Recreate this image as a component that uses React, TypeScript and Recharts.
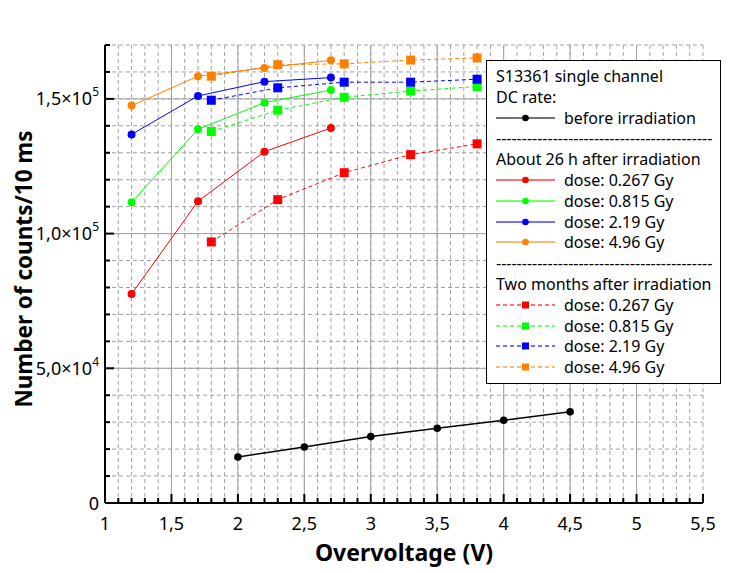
import React from 'react';
import { LineChart, Line, XAxis, YAxis, CartesianGrid, ReferenceLine } from 'recharts';

// overvoltage values (V)
const xBefore = [2, 2.5, 3, 3.5, 4, 4.5];
const x26h = [1.2, 1.7, 2.2, 2.7];
const x2mo = [1.8, 2.3, 2.8, 3.3, 3.8];

// DC counts per 10 ms
const yBefore = [17100, 20800, 24650, 27730, 30700, 33830];

const y26h0267 = [77600, 112000, 130400, 139200];
const y26h0815 = [111600, 138700, 148600, 153300];
const y26h219 = [136800, 151100, 156400, 157900];
const y26h496 = [147500, 158400, 161500, 164300];

const y2mo0267 = [96900, 112600, 122600, 129300, 133300];
const y2mo0815 = [137900, 145800, 150600, 152900, 154600];
const y2mo219 = [149500, 154100, 156200, 156200, 157300];
const y2mo496 = [158400, 162700, 163000, 164400, 165200];

const doseLabels = ['dose: 0.267 Gy', 'dose: 0.815 Gy', 'dose: 2.19 Gy', 'dose: 4.96 Gy'];
const doseColors = ['#ff0000', '#00ff00', '#0000ff', '#ff8000'];

const xMajorTicks = [1, 1.5, 2, 2.5, 3, 3.5, 4, 4.5, 5, 5.5];
const xTickLabels = ['1', '1,5', '2', '2,5', '3', '3,5', '4', '4,5', '5', '5,5'];
const yMajorTicks = [0, 50000, 100000, 150000];
const yTickMantissa = ['0', '5,0', '1,0', '1,5'];
const yTickExp = ['', '4', '5', '5'];

const X_DOMAIN: [number, number] = [1, 5.5];
const Y_DOMAIN: [number, number] = [0, 170000];

const xMinorTicks: number[] = [];
for (let i = 10; i <= 55; i++) xMinorTicks.push(i / 10);
const yMinorTicks: number[] = [];
for (let i = 0; i <= 17; i++) yMinorTicks.push(i * 10000);

const zip = (xs: number[], ys: number[]) => xs.map((x, i) => ({ x, y: ys[i] }));

const beforeData = zip(xBefore, yBefore);
const data26h = [y26h0267, y26h0815, y26h219, y26h496].map((ys) => zip(x26h, ys));
const data2mo = [y2mo0267, y2mo0815, y2mo219, y2mo496].map((ys) => zip(x2mo, ys));

const FONT = '"Noto Sans", sans-serif';

const xIndex = (v: number) => xMajorTicks.findIndex((t) => Math.abs(t - v) < 1e-6);
const yIndex = (v: number) => yMajorTicks.findIndex((t) => Math.abs(t - v) < 1e-3);

const BottomTick = (props: any) => {
    const { x, y, payload } = props;
    const i = xIndex(payload.value);
    return (
        <g>
            <line x1={x} x2={x} y1={y} y2={y - (i >= 0 ? 9 : 5)} stroke="#000" strokeWidth={2} />
            {i >= 0 && (
                <text x={x} y={y + 27} textAnchor="middle" fontSize={18} fontFamily={FONT} fill="#000">
                    {xTickLabels[i]}
                </text>
            )}
        </g>
    );
};

const TopTick = (props: any) => {
    const { x, y, payload } = props;
    const i = xIndex(payload.value);
    return <line x1={x} x2={x} y1={y} y2={y + (i >= 0 ? 9 : 5)} stroke="#000" strokeWidth={2} />;
};

const LeftTick = (props: any) => {
    const { x, y, payload } = props;
    const i = yIndex(payload.value);
    return (
        <g>
            <line x1={x} x2={x + (i >= 0 ? 9 : 5)} y1={y} y2={y} stroke="#000" strokeWidth={2} />
            {i >= 0 && (
                <text x={x - 6} y={y + 6.5} textAnchor="end" fontSize={18} fontFamily={FONT} fill="#000">
                    {yTickMantissa[i]}
                    {yTickExp[i] && '×10'}
                    {yTickExp[i] && (
                        <tspan dy={-9} fontSize={12}>
                            {yTickExp[i]}
                        </tspan>
                    )}
                </text>
            )}
        </g>
    );
};

const RightTick = (props: any) => {
    const { x, y, payload } = props;
    const i = yIndex(payload.value);
    return <line x1={x} x2={x - (i >= 0 ? 9 : 5)} y1={y} y2={y} stroke="#000" strokeWidth={2} />;
};

const squareDot = (color: string) => (props: any) => {
    const { cx, cy, index } = props;
    if (cx == null || cy == null) return <g key={`e-${index}`} />;
    return <rect key={`sq-${index}`} x={cx - 4.5} y={cy - 4.5} width={9} height={9} fill={color} />;
};

const Sample = ({ color, lineColor, dashed, square }: { color: string; lineColor: string; dashed?: boolean; square?: boolean }) => (
    <svg width={59} height={20} style={{ display: 'block', flex: '0 0 auto' }}>
        <line x1={0} x2={59} y1={10} y2={10} stroke={lineColor} strokeOpacity={0.55} strokeWidth={2} strokeDasharray={dashed ? '4 3' : undefined} />
        {square ? <rect x={26} y={6.5} width={7} height={7} fill={color} /> : <circle cx={29.5} cy={10} r={3.3} fill={color} />}
    </svg>
);

const rowStyle: React.CSSProperties = { height: 20.8, display: 'flex', alignItems: 'center', whiteSpace: 'nowrap' };

const Row = ({ children }: { children: React.ReactNode }) => <div style={rowStyle}>{children}</div>;

const SampleRow = (p: { color: string; lineColor: string; dashed?: boolean; square?: boolean; label: string }) => (
    <div style={rowStyle}>
        <Sample {...p} />
        <span style={{ marginLeft: 9 }}>{p.label}</span>
    </div>
);

const Dashes = () => <div style={rowStyle}>{'-'.repeat(42)}</div>;

const LegendBox = () => (
    <div
        style={{
            position: 'absolute',
            left: 478,
            top: 52,
            width: 235,
            height: 324,
            boxSizing: 'border-box',
            border: '1px solid #000',
            background: '#fff',
            padding: '4.6px 0 0 9px',
            fontFamily: FONT,
            fontSize: 16,
            color: '#000',
            lineHeight: 1,
        }}
    >
        <Row>S13361 single channel</Row>
        <Row>DC rate:</Row>
        <SampleRow color="#000" lineColor="#000" label="before irradiation" />
        <Dashes />
        <Row>About 26 h after irradiation</Row>
        {doseLabels.map((l, i) => (
            <SampleRow key={l} color={doseColors[i]} lineColor={doseColors[i]} label={l} />
        ))}
        <Dashes />
        <Row>Two months after irradiation</Row>
        {doseLabels.map((l, i) => (
            <SampleRow key={'d' + l} color={doseColors[i]} lineColor={doseColors[i]} dashed square label={l} />
        ))}
    </div>
);

export default function App() {
    return (
        <div style={{ position: 'relative', width: 734, height: 565, fontFamily: FONT }}>
            <LineChart width={734} height={565} margin={{ top: 37, right: 39, bottom: 4, left: 7 }} style={{ overflow: 'visible' }}>
                <CartesianGrid stroke="#a0a0a0" strokeDasharray="4 3" />
                {xMajorTicks.slice(1, -1).map((v) => (
                    <ReferenceLine key={'vx' + v} x={v} stroke="#a0a0a0" strokeWidth={1} />
                ))}
                {yMajorTicks.slice(1).map((v) => (
                    <ReferenceLine key={'hy' + v} y={v} stroke="#a0a0a0" strokeWidth={1} />
                ))}
                <XAxis
                    type="number"
                    dataKey="x"
                    domain={X_DOMAIN}
                    ticks={xMinorTicks}
                    interval={0}
                    tickSize={0}
                    tickMargin={0}
                    tickLine={false}
                    tick={<BottomTick />}
                    axisLine={{ stroke: '#000', strokeWidth: 2 }}
                    height={66}
                    allowDataOverflow
                    label={{
                        value: 'Overvoltage (V)',
                        position: 'insideBottom',
                        offset: 8,
                        style: { fontFamily: FONT, fontSize: 23, fontWeight: 700, fill: '#000' },
                    }}
                />
                <XAxis
                    xAxisId="top"
                    orientation="top"
                    type="number"
                    dataKey="x"
                    domain={X_DOMAIN}
                    ticks={xMinorTicks}
                    interval={0}
                    tickSize={0}
                    tickMargin={0}
                    tickLine={false}
                    tick={<TopTick />}
                    axisLine={{ stroke: '#000', strokeWidth: 2 }}
                    height={0}
                    allowDataOverflow
                />
                <YAxis
                    type="number"
                    domain={Y_DOMAIN}
                    ticks={yMinorTicks}
                    interval={0}
                    tickSize={0}
                    tickMargin={0}
                    tickLine={false}
                    tick={<LeftTick />}
                    axisLine={{ stroke: '#000', strokeWidth: 2 }}
                    width={90}
                    allowDataOverflow
                    label={{
                        value: 'Number of counts/10 ms',
                        angle: -90,
                        position: 'insideLeft',
                        offset: 0,
                        content: () => (
                            <text
                                x={15}
                                y={261}
                                transform="rotate(-90 15 261)"
                                textAnchor="middle"
                                dominantBaseline="central"
                                fontFamily={FONT}
                                fontSize={22.5}
                                fontWeight={700}
                                fill="#000"
                            >
                                Number of counts/10 ms
                            </text>
                        ),
                    }}
                />
                <YAxis
                    yAxisId="right"
                    orientation="right"
                    type="number"
                    domain={Y_DOMAIN}
                    ticks={yMinorTicks}
                    interval={0}
                    tickSize={0}
                    tickMargin={0}
                    tickLine={false}
                    tick={<RightTick />}
                    axisLine={{ stroke: '#000', strokeWidth: 2 }}
                    width={0}
                    allowDataOverflow
                />

                <Line
                    data={beforeData}
                    dataKey="y"
                    stroke="#000"
                    strokeWidth={1.5}
                    dot={{ r: 3.8, fill: '#000', stroke: 'none' }}
                    isAnimationActive={false}
                />
                {data26h.map((d, i) => (
                    <Line
                        key={'h' + i}
                        data={d}
                        dataKey="y"
                        stroke={doseColors[i]}
                        strokeWidth={1}
                        dot={{ r: 4, fill: doseColors[i], stroke: 'none' }}
                        isAnimationActive={false}
                    />
                ))}
                {data2mo.map((d, i) => (
                    <Line
                        key={'m' + i}
                        data={d}
                        dataKey="y"
                        stroke={doseColors[i]}
                        strokeWidth={1}
                        strokeDasharray="4 3"
                        dot={squareDot(doseColors[i])}
                        isAnimationActive={false}
                    />
                ))}
            </LineChart>
            <LegendBox />
        </div>
    );
}
